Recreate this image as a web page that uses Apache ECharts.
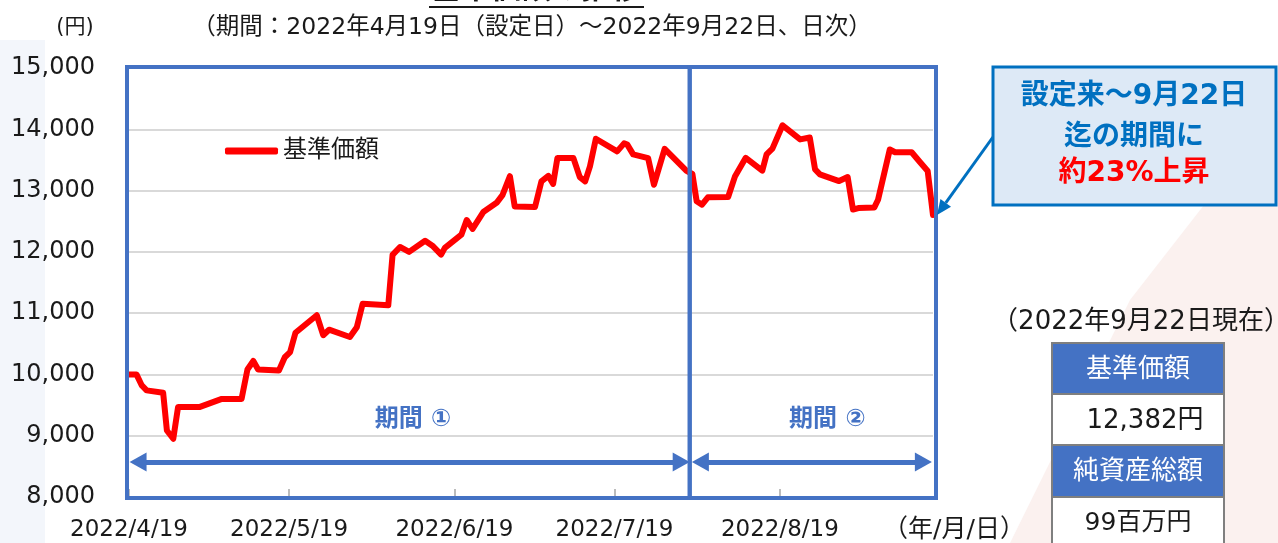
<!DOCTYPE html>
<html>
<head>
<meta charset="utf-8">
<script src="https://cdn.jsdelivr.net/npm/echarts@6/dist/echarts.min.js"></script>
<style>
html, body { margin: 0; padding: 0; background: #ffffff; }
#main { width: 1278px; height: 543px; }
</style>
</head>
<body>
<div id="main"></div>
<script>
// 設定日(2022/4/19)からの経過日数と基準価額
var days = [0, 1.4, 2.4, 3.3, 6.4, 7.1, 8.3, 9.2, 13.3, 17.4,
    21.1, 22.2, 23.3, 24.2, 28.1, 29.2, 30.2, 31.2, 35.2, 36.4,
    37.5, 41.4, 42.7, 43.8, 48.6, 49.4, 50.8, 52.5, 55.5, 57.0,
    58.5, 59.2, 62.3, 63.3, 64.4, 66.4, 68.9, 70.0, 71.4, 72.3,
    76.1, 77.3, 78.6, 79.5, 80.3, 83.3, 84.5, 85.5, 86.4, 87.5,
    91.5, 92.8, 93.4, 94.5, 97.3, 98.4, 100.4, 104.5, 105.6, 106.4,
    107.4, 108.5, 112.3, 113.6, 115.6, 118.7, 119.5, 120.6, 122.5, 125.8,
    127.6, 128.6, 129.5, 133.1, 134.7, 135.7, 136.7, 139.7, 140.4, 142.6,
    143.6, 146.7, 148.2, 149.7, 150.7]
var values = [10000, 10000, 9820, 9740, 9700, 9085, 8950, 9470, 9470, 9600,
    9600, 10080, 10220, 10080, 10065, 10280, 10365, 10680, 10965, 10640,
    10730, 10610, 10770, 11155, 11130, 11950, 12080, 12000, 12180, 12090,
    11955, 12065, 12280, 12520, 12375, 12650, 12800, 12925, 13235, 12740,
    12730, 13150, 13240, 13110, 13530, 13530, 13220, 13150, 13395, 13845,
    13640, 13770, 13750, 13590, 13530, 13095, 13680, 13320, 13270, 12825,
    12770, 12890, 12895, 13235, 13535, 13325, 13590, 13685, 14065, 13835,
    13865, 13345, 13265, 13155, 13220, 12690, 12715, 12725, 12850, 13670,
    13625, 13625, 13470, 13320, 12600]
var tickDays = [0, 30, 61, 91, 122]
var tickLabels = ['2022/4/19', '2022/5/19', '2022/6/19', '2022/7/19', '2022/8/19']
var periodEnd = 105.1   // 期間①と期間②の境目
var arrowLevel = 8570   // 期間の矢印の高さ
var periodNames = ['期間 ①', '期間 ②']

var FONT = '"DejaVu Sans", "Noto Sans CJK JP", sans-serif'
var chart = echarts.init(document.getElementById('main'))

var option = {
    animation: false,
    backgroundColor: '#ffffff',
    grid: { left: 129, right: 345, top: 68, bottom: 46 },
    legend: {
        left: 225, top: 139, padding: 0,
        itemWidth: 53, itemHeight: 7, itemGap: 6,
        icon: 'roundRect',
        textStyle: { fontSize: 24, color: '#1a1a1a', fontFamily: FONT },
        data: ['基準価額']
    },
    xAxis: {
        type: 'value', min: 0, max: days[days.length - 1],
        axisLine: { show: false },
        splitLine: { show: false },
        axisTick: { show: true, inside: true, length: 8, customValues: tickDays,
            lineStyle: { color: '#a6a6a6', width: 1.5 } },
        axisLabel: { customValues: tickDays, margin: 22, fontSize: 23, color: '#1a1a1a', fontFamily: FONT,
            formatter: function (v) { return tickLabels[tickDays.indexOf(v)] } }
    },
    yAxis: {
        type: 'value', min: 8000, max: 15000, interval: 1000,
        axisLine: { show: false }, axisTick: { show: false },
        splitLine: { lineStyle: { color: '#d9d9d9', width: 2 } },
        axisLabel: { margin: 34, fontSize: 24, color: '#1a1a1a', fontFamily: FONT,
            formatter: function (v) { return v.toLocaleString('en-US') } }
    },
    series: [{
        name: '基準価額',
        type: 'line',
        symbol: 'none',
        z: 5,
        data: days.map(function (d, i) { return [d, values[i]] }),
        lineStyle: { color: '#ff0000', width: 6, cap: 'round', join: 'round' },
        itemStyle: { color: '#ff0000' },
        markLine: {
            silent: true, animation: false,
            label: { show: false },
            symbol: ['triangle', 'triangle'], symbolSize: [19, 17],
            lineStyle: { color: '#4472C4', width: 5, type: 'solid' },
            data: [
                [{ coord: [1.7, arrowLevel] }, { coord: [periodEnd - 1.6, arrowLevel] }],
                [{ coord: [periodEnd + 2.0, arrowLevel] }, { coord: [148.9, arrowLevel] }]
            ]
        }
    }]
}
chart.setOption(option)

function px(d, v) { return chart.convertToPixel({ gridIndex: 0 }, [d, v]) }
var tl = px(0, 15000)
var br = px(days[days.length - 1], 8000)
var mid = px(periodEnd, 8000)
var last = px(days[days.length - 1], values[values.length - 1])
var lab1 = px((0 + periodEnd) / 2 + 0.7, 9260)
var lab2 = px((periodEnd + days[days.length - 1]) / 2 + 3, 9260)

// 吹き出しの矢印
var a0 = [993, 137], a1 = [last[0] + 4, last[1]]
var dx = a1[0] - a0[0], dy = a1[1] - a0[1], len = Math.sqrt(dx * dx + dy * dy)
var ux = dx / len, uy = dy / len
var hb = [a1[0] - ux * 15, a1[1] - uy * 15]
var head = [a1, [hb[0] - uy * 6.5, hb[1] + ux * 6.5], [hb[0] + uy * 6.5, hb[1] - ux * 6.5]]

var blue = '#4472C4'
var graphics = [
    // 背景の淡い模様
    { type: 'polygon', z: -10, shape: { points: [[1278, 110], [1278, 543], [1010, 543], [1130, 300]] },
        style: { fill: '#fbf1ef' } },
    { type: 'polygon', z: -10, shape: { points: [[0, 40], [45, 40], [45, 543], [0, 543]] },
        style: { fill: '#f3f6fb' } },
    // 枠
    { type: 'rect', z: 10, shape: { x: tl[0] - 2, y: tl[1] - 1, width: mid[0] - tl[0] + 2, height: br[1] - tl[1] + 2 },
        style: { fill: 'none', stroke: blue, lineWidth: 4 } },
    { type: 'rect', z: 10, shape: { x: mid[0], y: tl[1] - 1, width: br[0] - mid[0] + 3, height: br[1] - tl[1] + 2 },
        style: { fill: 'none', stroke: blue, lineWidth: 4 } },
    // 期間ラベル
    { type: 'text', z: 10, x: lab1[0], y: lab1[1],
        style: { text: periodNames[0], fill: blue, font: 'bold 24px ' + FONT, textAlign: 'center', textVerticalAlign: 'middle' } },
    { type: 'text', z: 10, x: lab2[0], y: lab2[1],
        style: { text: periodNames[1], fill: blue, font: 'bold 24px ' + FONT, textAlign: 'center', textVerticalAlign: 'middle' } },
    // タイトル類
    { type: 'text', x: 536, y: 5,
        style: { text: '基準価額の推移', fill: '#1a1a1a', font: 'bold 30px ' + FONT, textAlign: 'center', textVerticalAlign: 'bottom' } },
    { type: 'line', shape: { x1: 429, y1: 7, x2: 644, y2: 7 }, style: { stroke: '#1a1a1a', lineWidth: 2 } },
    { type: 'text', x: 75, y: 28,
        style: { text: '(円)', fill: '#1a1a1a', font: '21px ' + FONT, textAlign: 'center', textVerticalAlign: 'middle' } },
    { type: 'text', x: 532, y: 28,
        style: { text: '（期間：2022年4月19日（設定日）～2022年9月22日、日次）', fill: '#1a1a1a', font: '23.5px ' + FONT,
            textAlign: 'center', textVerticalAlign: 'middle' } },
    { type: 'text', x: 954, y: 530,
        style: { text: '（年/月/日）', fill: '#1a1a1a', font: '25px ' + FONT, textAlign: 'center', textVerticalAlign: 'middle' } },
    // 吹き出し
    { type: 'line', z: 12, shape: { x1: a0[0], y1: a0[1], x2: hb[0], y2: hb[1] }, style: { stroke: '#0070C0', lineWidth: 3 } },
    { type: 'polygon', z: 12, shape: { points: head }, style: { fill: '#0070C0' } },
    { type: 'rect', z: 12, shape: { x: 993, y: 67, width: 283, height: 138 },
        style: { fill: '#dde9f6', stroke: '#0070C0', lineWidth: 3 } },
    { type: 'text', z: 13, x: 1134, y: 97,
        style: { text: '設定来～9月22日', fill: '#0070C0', font: 'bold 28px ' + FONT, textAlign: 'center', textVerticalAlign: 'middle' } },
    { type: 'text', z: 13, x: 1134, y: 138,
        style: { text: '迄の期間に', fill: '#0070C0', font: 'bold 28px ' + FONT, textAlign: 'center', textVerticalAlign: 'middle' } },
    { type: 'text', z: 13, x: 1134, y: 174,
        style: { text: '約23%上昇', fill: '#ff0000', font: 'bold 28px ' + FONT, textAlign: 'center', textVerticalAlign: 'middle' } },
    // 表
    { type: 'text', x: 1141, y: 322,
        style: { text: '（2022年9月22日現在）', fill: '#1a1a1a', font: '26px ' + FONT, textAlign: 'center', textVerticalAlign: 'middle' } },
    { type: 'rect', shape: { x: 1052, y: 343, width: 172, height: 51 }, style: { fill: blue, stroke: '#7f7f7f', lineWidth: 2 } },
    { type: 'rect', shape: { x: 1052, y: 394, width: 172, height: 51 }, style: { fill: '#ffffff', stroke: '#7f7f7f', lineWidth: 2 } },
    { type: 'rect', shape: { x: 1052, y: 445, width: 172, height: 52 }, style: { fill: blue, stroke: '#7f7f7f', lineWidth: 2 } },
    { type: 'rect', shape: { x: 1052, y: 497, width: 172, height: 60 }, style: { fill: '#ffffff', stroke: '#7f7f7f', lineWidth: 2 } },
    { type: 'text', x: 1138, y: 370,
        style: { text: '基準価額', fill: '#ffffff', font: '26px ' + FONT, textAlign: 'center', textVerticalAlign: 'middle' } },
    { type: 'text', x: 1145, y: 421,
        style: { text: '12,382円', fill: '#1a1a1a', font: '26px ' + FONT, textAlign: 'center', textVerticalAlign: 'middle' } },
    { type: 'text', x: 1138, y: 472,
        style: { text: '純資産総額', fill: '#ffffff', font: '26px ' + FONT, textAlign: 'center', textVerticalAlign: 'middle' } },
    { type: 'text', x: 1138, y: 523,
        style: { text: '99百万円', fill: '#1a1a1a', font: '25px ' + FONT, textAlign: 'center', textVerticalAlign: 'middle' } }
]
chart.setOption({ graphic: graphics })
</script>
</body>
</html>
